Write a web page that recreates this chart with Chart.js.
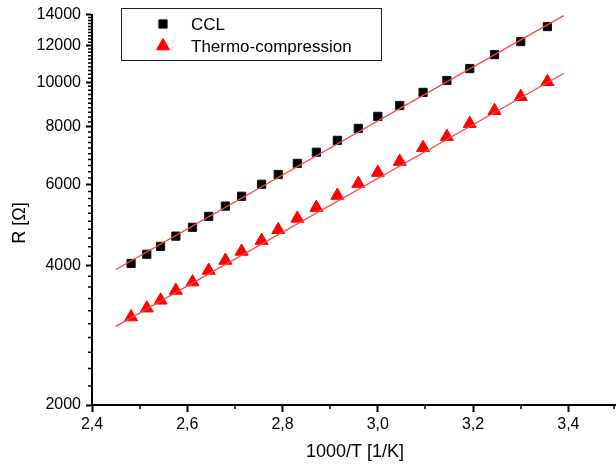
<!DOCTYPE html>
<html>
<head>
<meta charset="utf-8">
<script src="https://cdn.jsdelivr.net/npm/chart.js@4.4.4/dist/chart.umd.min.js"></script>
<style>
  html, body { margin: 0; padding: 0; background: #fff; overflow: hidden; }
  canvas { display: block; }
</style>
</head>
<body>
<canvas id="chart" width="616" height="465"></canvas>
<script>
// values
const xValues = [2.482, 2.515, 2.544, 2.576, 2.611, 2.645, 2.680, 2.714, 2.756, 2.791, 2.831,
                 2.871, 2.915, 2.959, 3.000, 3.046, 3.095, 3.145, 3.193, 3.245, 3.300, 3.356]
const cclValues = [4050, 4240, 4410, 4640, 4850, 5120, 5390, 5660, 6010, 6310, 6670,
                   7050, 7480, 7940, 8430, 8900, 9500, 10080, 10700, 11470, 12240, 13190]
const thermoValues = [3100, 3240, 3370, 3540, 3690, 3910, 4110, 4300, 4540, 4790, 5070,
                      5350, 5680, 6030, 6370, 6730, 7210, 7620, 8130, 8670, 9300, 10020]

// linear fits (end points)
const fitX = [2.45, 3.39]
const cclFit = [3930, 13930]
const thermoFit = [2960, 10440]

const xTicks = [2.4, 2.6, 2.8, 3.0, 3.2, 3.4]
const xMinorTicks = [2.5, 2.7, 2.9, 3.1, 3.3, 3.5]
const yTicks = [2000, 4000, 6000, 8000, 10000, 12000, 14000]

const FONT = "'Liberation Sans', Arial, sans-serif"
const RED = '#ff0000'

const pts = (xs, ys) => xs.map((x, i) => ({ x: x, y: ys[i] }))

// minor ticks, axis titles and the boxed legend
const extras = {
    id: 'extras',
    afterDraw(chart) {
        const ctx = chart.ctx
        const xs = chart.scales.x
        const ys = chart.scales.y
        const area = chart.chartArea

        ctx.save()
        ctx.strokeStyle = '#000'
        ctx.lineWidth = 1.5
        ctx.beginPath()
        xMinorTicks.forEach(v => {
            let px = Math.round(xs.getPixelForValue(v))
            if (px > 617) return
            px = Math.min(px, 614)
            ctx.moveTo(px, area.bottom)
            ctx.lineTo(px, area.bottom + 4)
        })
        for (let v = 2200; v < 14000; v += 200) {
            if (v % 2000 === 0) continue
            const py = ys.getPixelForValue(v)
            ctx.moveTo(area.left, py)
            ctx.lineTo(area.left - 4, py)
        }
        ctx.stroke()

        // axis titles
        ctx.fillStyle = '#000'
        ctx.font = '18px ' + FONT
        ctx.textAlign = 'center'
        ctx.textBaseline = 'middle'
        ctx.fillText('1000/T [1/K]', 355, 452)
        ctx.save()
        ctx.translate(20, 223)
        ctx.rotate(-Math.PI / 2)
        ctx.fillText('R [Ω]', 0, 0)
        ctx.restore()

        // legend
        ctx.strokeStyle = '#222'
        ctx.lineWidth = 1
        ctx.strokeRect(121.5, 8.5, 260, 52)
        const rows = [
            { ds: chart.data.datasets[0], y: 24 },
            { ds: chart.data.datasets[1], y: 46 }
        ]
        rows.forEach(r => {
            ctx.fillStyle = r.ds.backgroundColor
            ctx.strokeStyle = r.ds.borderColor
            Chart.helpers.drawPoint(ctx, {
                pointStyle: r.ds.pointStyle,
                radius: r.ds.pointRadius,
                borderWidth: r.ds.borderWidth,
                rotation: 0
            }, 163, r.y)
            ctx.fillStyle = '#000'
            ctx.font = '17px ' + FONT
            ctx.textAlign = 'left'
            ctx.fillText(r.ds.label, 191, r.y + 1)
        })
        ctx.restore()
    }
}

new Chart(document.getElementById('chart'), {
    type: 'scatter',
    data: {
        datasets: [
            {
                label: 'CCL',
                data: pts(xValues, cclValues),
                pointStyle: 'rect',
                pointRadius: 5.8,
                backgroundColor: '#000',
                borderColor: '#111',
                borderWidth: 1,
                order: 3
            },
            {
                label: 'Thermo-compression',
                data: pts(xValues, thermoValues),
                pointStyle: 'triangle',
                pointRadius: 7.5,
                backgroundColor: RED,
                borderColor: RED,
                borderWidth: 1,
                order: 2
            },
            {
                label: 'CCL fit',
                data: pts(fitX, cclFit),
                showLine: true,
                pointRadius: 0,
                borderColor: 'rgb(255,70,70)',
                borderWidth: 1.3,
                order: 1
            },
            {
                label: 'Thermo fit',
                data: pts(fitX, thermoFit),
                showLine: true,
                pointRadius: 0,
                borderColor: 'rgb(255,70,70)',
                borderWidth: 1.3,
                order: 1
            }
        ]
    },
    options: {
        responsive: false,
        animation: false,
        devicePixelRatio: 1,
        layout: { autoPadding: false, padding: { top: 14, right: 0, left: 0, bottom: 0 } },
        plugins: {
            legend: { display: false },
            tooltip: { enabled: false }
        },
        scales: {
            x: {
                type: 'linear',
                min: 2.4,
                max: 3.5,
                afterBuildTicks: (scale) => { scale.ticks = xTicks.map(v => ({ value: v })) },
                afterFit: (scale) => {
                    scale.height = 60
                    scale.paddingRight = 0
                },
                ticks: {
                    autoSkip: false,
                    maxRotation: 0,
                    padding: 3,
                    color: '#000',
                    font: { family: FONT, size: 16 },
                    callback: (v) => Number(v).toFixed(1).replace('.', ',')
                },
                grid: {
                    drawOnChartArea: false,
                    tickLength: 7,
                    tickWidth: 2,
                    tickColor: '#000'
                },
                border: { display: true, color: '#000', width: 2 }
            },
            y: {
                type: 'logarithmic',
                min: 2000,
                max: 14000,
                afterBuildTicks: (scale) => { scale.ticks = yTicks.map(v => ({ value: v })) },
                afterFit: (scale) => { scale.width = 92 },
                ticks: {
                    autoSkip: false,
                    padding: 5,
                    color: '#000',
                    font: { family: FONT, size: 16 },
                    callback: (v) => String(v)
                },
                grid: {
                    drawOnChartArea: false,
                    tickLength: 6,
                    tickWidth: 2,
                    tickColor: '#000'
                },
                border: { display: true, color: '#000', width: 2 }
            }
        }
    },
    plugins: [extras]
})
</script>
</body>
</html>
